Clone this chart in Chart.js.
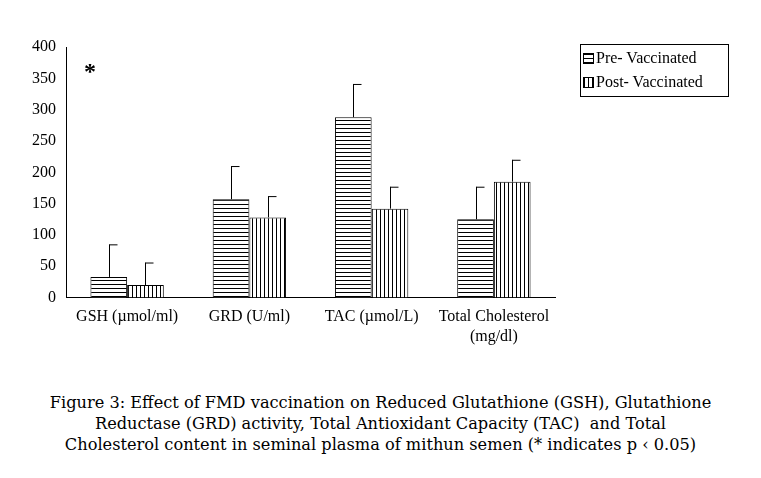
<!DOCTYPE html>
<html><head><meta charset="utf-8">
<script src="https://cdn.jsdelivr.net/npm/chart.js@4"></script>
<style>
body{margin:0;background:#fff;width:761px;height:478px;position:relative;font-family:"Liberation Serif",serif}
#wrap{position:absolute;left:0;top:0;width:761px;height:356px}
#legend{position:absolute;left:580px;top:44px;width:147px;height:51px;border:1px solid #000;font-size:16px;color:#000}
#legend div{height:22px;line-height:22px;margin-top:2px;padding-left:2px;display:flex;align-items:center}
#legend canvas{border:1px solid #000;margin-right:2px}
#star{position:absolute;left:84px;top:58px;font-size:24px;font-weight:bold}
#cap{position:absolute;left:0;width:761px;top:392px;text-align:center;font-family:"DejaVu Serif",serif;font-size:16.2px;line-height:21px;color:#000}
</style></head><body>
<div id="wrap"><canvas id="c"></canvas></div>
<div id="legend"><div><canvas id="l1" width="9" height="9"></canvas>Pre- Vaccinated</div><div><canvas id="l2" width="9" height="9"></canvas>Post- Vaccinated</div></div>
<div id="star">*</div>
<div id="cap">Figure 3: Effect of FMD vaccination on Reduced Glutathione (GSH), Glutathione<br>Reductase (GRD) activity, Total Antioxidant Capacity (TAC)&nbsp; and Total<br>Cholesterol content in seminal plasma of mithun semen (* indicates p &lsaquo; 0.05)</div>
<script>
const categories=[["GSH (µmol/ml)"],["GRD (U/ml)"],["TAC (µmol/L)"],["Total Cholesterol","(mg/dl)"]];
const preValues=[33,157,288,125];
const postValues=[20,128,142,185];
const preErr=[52,53,53,52];
const postErr=[36,34,35,35];
const yTicks=[0,50,100,150,200,250,300,350,400];

function pat(horiz){const p=document.createElement('canvas');p.width=4;p.height=4;const g=p.getContext('2d');g.fillStyle='#fff';g.fillRect(0,0,4,4);g.fillStyle='#000';if(horiz)g.fillRect(0,0,4,1);else g.fillRect(0,0,1,4);return g.createPattern(p,'repeat');}
[['l1',true],['l2',false]].forEach(([id,h])=>{const g=document.getElementById(id).getContext('2d');g.fillStyle=pat(h);g.fillRect(0,0,9,9);});

const errPlugin={id:'err',afterDatasetsDraw(chart){const ctx=chart.ctx;const y=chart.scales.y;const errs=[preErr,postErr];
chart.data.datasets.forEach((ds,i)=>{chart.getDatasetMeta(i).data.forEach((bar,j)=>{const v=ds.data[j];const top=y.getPixelForValue(v+errs[i][j]);const b=y.getPixelForValue(v);
ctx.save();ctx.strokeStyle='#000';ctx.lineWidth=1;ctx.beginPath();const x=Math.round(bar.x)+0.5;ctx.moveTo(x,b);ctx.lineTo(x,top);ctx.moveTo(x,top+0.5);ctx.lineTo(x+8,top+0.5);ctx.stroke();ctx.restore();});});}};

new Chart(document.getElementById('c'),{type:'bar',
data:{labels:categories,datasets:[
{label:'Pre- Vaccinated',data:preValues,backgroundColor:pat(true),borderColor:'#000',borderWidth:1,categoryPercentage:0.6,barPercentage:1},
{label:'Post- Vaccinated',data:postValues,backgroundColor:pat(false),borderColor:'#000',borderWidth:1,categoryPercentage:0.6,barPercentage:1}]},
options:{responsive:true,maintainAspectRatio:false,animation:false,
layout:{padding:{left:26,right:206,top:47,bottom:0}},
plugins:{legend:{display:false},tooltip:{enabled:false}},
scales:{x:{grid:{display:false,drawTicks:false},border:{color:'#000'},
ticks:{color:'#000',font:{family:'Liberation Serif',size:16},padding:10}},
y:{min:0,max:400,afterBuildTicks:a=>{a.ticks=yTicks.map(v=>({value:v}));},grid:{display:false,drawTicks:true,tickLength:4,tickColor:'#000'},border:{color:'#000'},
ticks:{color:'#000',font:{family:'Liberation Serif',size:16},padding:6}}}},
plugins:[errPlugin]});
</script></body></html>
